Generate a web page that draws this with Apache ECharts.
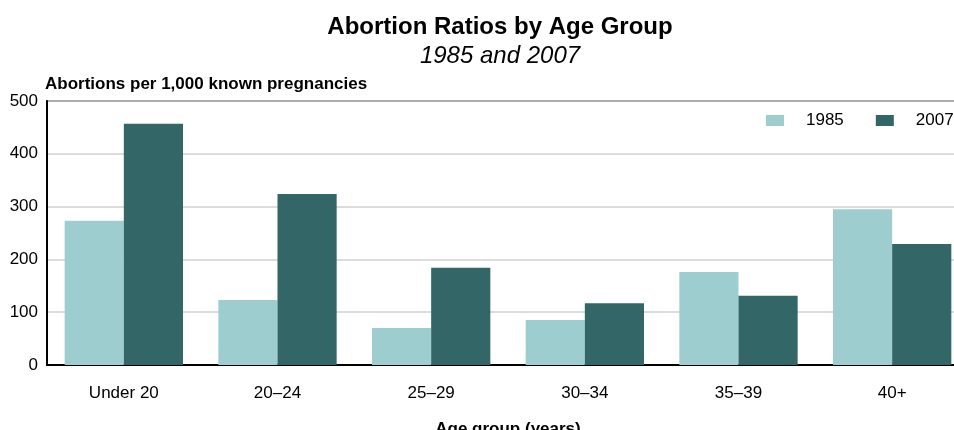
<!DOCTYPE html>
<html><head><meta charset="utf-8">
<script src="https://cdn.jsdelivr.net/npm/echarts@6/dist/echarts.min.js"></script>
<style>html,body{margin:0;padding:0;background:#fff}#c{width:954px;height:430px}</style>
</head><body><div id="c"></div>
<script>
const categories = ['Under 20', '20–24', '25–29', '30–34', '35–39', '40+'];
const values1985 = [273, 123, 70, 85, 176, 295];
const values2007 = [457, 324, 184, 117, 131, 229];
const yTicks = [0, 100, 200, 300, 400, 500];

const chart = echarts.init(document.getElementById('c'));
const F = 'Arial, "Liberation Sans", sans-serif';
chart.setOption({
  animation: false,
  textStyle: {fontFamily: F},
  title: [
    {text: 'Abortion Ratios by Age Group', left: 495, top: 10, textAlign: 'center',
     textStyle: {fontSize: 24, fontWeight: 'bold', color: '#000', fontFamily: F}},
    {text: '1985 and 2007', left: 495, top: 39, textAlign: 'center',
     textStyle: {fontSize: 24, fontStyle: 'italic', fontWeight: 'normal', color: '#000', fontFamily: F}}
  ],
  legend: {
    orient: 'horizontal', left: 766, top: 112, width: 400, padding: 0,
    itemWidth: 18, itemHeight: 11, itemGap: 32,
    icon: 'rect',
    textStyle: {fontSize: 17, color: '#000', padding: [0, 0, 0, 17], fontFamily: F},
    data: ['1985', '2007']
  },
  grid: {left: 47, right: -15, top: 101, bottom: 65, show: true, borderColor: '#444', borderWidth: 2,
         containLabel: false, outerBoundsMode: 'none'},
  xAxis: {
    type: 'category', data: categories,
    name: 'Age group (years)', nameLocation: 'middle', nameGap: 56,
    nameTextStyle: {fontSize: 17, fontWeight: 'bold', color: '#000', fontFamily: F},
    axisLine: {lineStyle: {color: '#000', width: 2}},
    axisTick: {show: false},
    axisLabel: {fontSize: 17, color: '#000', margin: 20, fontFamily: F}
  },
  yAxis: {
    type: 'value', min: 0, max: 500, interval: 100,
    name: 'Abortions per 1,000 known pregnancies', nameLocation: 'end', nameGap: 8,
    nameTextStyle: {fontSize: 17, fontWeight: 'bold', color: '#000', align: 'left', padding: [0, 0, 0, -2], fontFamily: F},
    axisLine: {show: true, lineStyle: {color: '#000', width: 2}},
    axisTick: {show: false},
    axisLabel: {fontSize: 17, color: '#000', margin: 9, fontFamily: F,
      formatter: v => yTicks.includes(v) ? String(v) : ''},
    splitLine: {lineStyle: {color: '#d0d0d0', width: 1.5}}
  },
  series: [
    {name: '1985', type: 'bar', data: values1985, barGap: '0%', barCategoryGap: '23%',
     itemStyle: {color: '#9dcdcf'}},
    {name: '2007', type: 'bar', data: values2007, barGap: '0%', barCategoryGap: '23%',
     itemStyle: {color: '#336666'}}
  ]
});
</script></body></html>
